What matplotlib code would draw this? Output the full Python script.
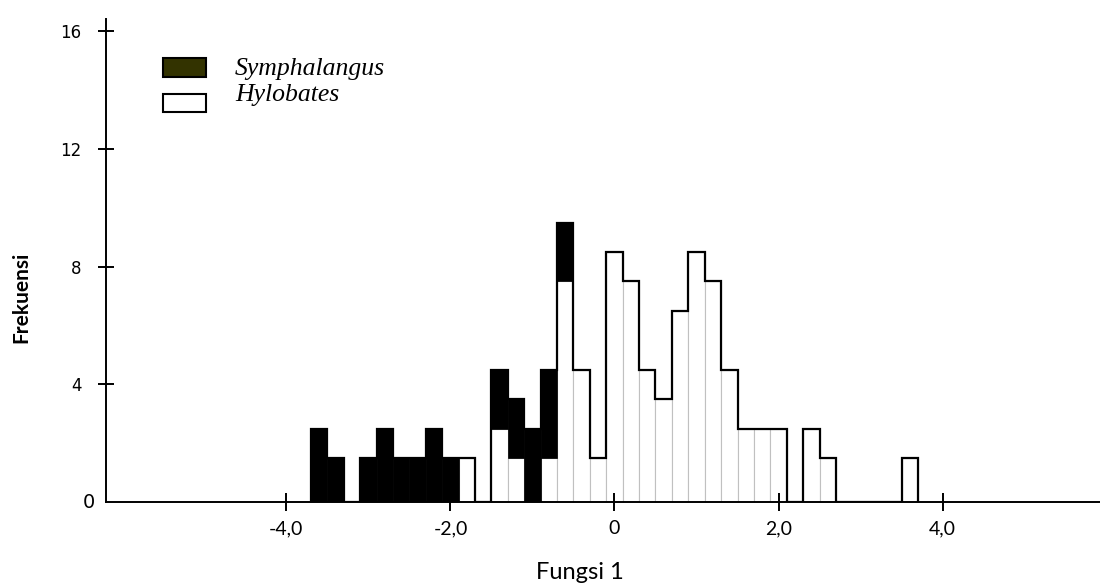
import numpy as np
import matplotlib
matplotlib.use('Agg')
import matplotlib.pyplot as plt
from matplotlib.patches import Rectangle
from matplotlib.transforms import blended_transform_factory

# histogram bins: 37 bins of width 0.2 starting at -3.7
bin_start = -3.7
bin_width = 0.2
n_bins = 37

# bar heights (Hylobates at the bottom, Symphalangus stacked on top)
hylobates = [0, 0, 0, 0, 0, 0, 0, 0, 0,
             1.5, 0, 2.5, 1.5, 0, 1.5, 7.5, 4.5, 1.5, 8.5, 7.5, 4.5, 3.5, 6.5,
             8.5, 7.5, 4.5, 2.5, 2.5, 2.5, 0, 2.5, 1.5, 0, 0, 0, 0, 1.5]
symphalangus = [2.5, 1.5, 0, 1.5, 2.5, 1.5, 1.5, 2.5, 1.5, 0, 0, 2.0, 2.0, 2.5, 3.0, 2.0,
                0, 0, 0, 0, 0, 0, 0, 0, 0, 0, 0, 0, 0, 0, 0, 0, 0, 0, 0, 0, 0]

xticks = [-4, -2, 0, 2, 4]
xtick_labels = ['-4,0', '-2,0', '0', '2,0', '4,0']
yticks = [4, 8, 12, 16]
ytick_labels = ['4', '8', '12', '16']
legend_labels = ['Symphalangus', 'Hylobates']
legend_colors = ['#333300', 'white']

edges = bin_start + bin_width * np.arange(n_bins + 1)
lefts = edges[:-1]
hylo = np.array(hylobates)
sym = np.array(symphalangus)

fig = plt.figure(figsize=(11, 5.84), dpi=100)
ax = fig.add_axes([106 / 1100, (584 - 502.3) / 584, 994 / 1100, 483.3 / 584])

ax.bar(lefts, hylo, width=bin_width, align='edge', color='white',
       edgecolor='#c0c0c0', linewidth=0.8, zorder=1)
ax.bar(lefts, sym, width=bin_width, bottom=hylo, align='edge', color='black',
       edgecolor='black', linewidth=0.5, zorder=1.2)
ax.stairs(hylo + sym, edges, color='black', linewidth=1.6, baseline=0, zorder=1.5)

ax.set_xlim(-6.2, 5.92)
ax.set_ylim(0, 16.41)

for s in ['top', 'right']:
    ax.spines[s].set_visible(False)
for s in ['left', 'bottom']:
    ax.spines[s].set_linewidth(1.4)

ax.set_xticks(xticks)
ax.set_xticklabels(xtick_labels, family='Lato', fontsize=14)
ax.set_yticks(yticks)
ax.set_yticklabels(ytick_labels, family='DejaVu Sans', fontsize=12)
ax.tick_params(axis='x', direction='inout', length=13, width=1.4, pad=6.5)
ax.tick_params(axis='y', direction='inout', length=12, width=1.4, pad=11.5)

# the zero label on the y axis is drawn bigger
trans = blended_transform_factory(ax.transAxes, ax.transData)
ax.text(-0.0115, 0, '0', transform=trans, ha='right', va='center',
        family='DejaVu Sans', fontsize=14)

ax.set_ylabel('Frekuensi', family='Lato', fontweight='bold', fontsize=15, va='center')
ax.yaxis.set_label_coords(-0.0855, 0.425)
ax.set_xlabel('Fungsi 1', family='Lato', fontsize=17, va='baseline')
ax.xaxis.set_label_coords(0.477, -0.159)

# legend drawn by hand
patch_y = [0.8806, 0.8082]
patch_h = [0.0393, 0.036]
text_y = [0.8841, 0.8303]
for lab, col, py, ph, ty in zip(legend_labels, legend_colors, patch_y, patch_h, text_y):
    ax.add_patch(Rectangle((0.0576, py), 0.043, ph, transform=ax.transAxes,
                           facecolor=col, edgecolor='black', linewidth=1.5,
                           clip_on=False))
    ax.text(0.1298, ty, lab, transform=ax.transAxes, family='Liberation Serif',
            style='italic', fontsize=18.5, va='baseline', ha='left')

fig.savefig('out.png', dpi=100)
